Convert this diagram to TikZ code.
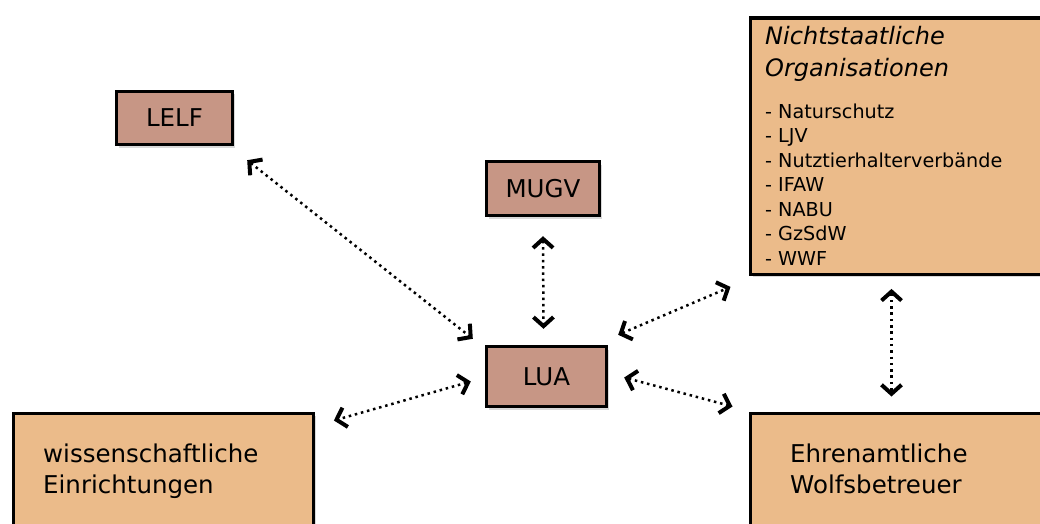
\documentclass[tikz,border=0pt]{standalone}
\usepackage{fontspec}
\setmainfont{DejaVu Sans}
\usetikzlibrary{arrows.meta,shadows,calc}
\definecolor{rose}{RGB}{199,150,133}
\definecolor{sand}{RGB}{235,187,138}
\begin{document}
\begin{tikzpicture}[x=1pt,y=-1pt,
  box/.style={draw=black,line width=3.4pt,inner sep=0pt,
    drop shadow={shadow xshift=2.5pt,shadow yshift=-3pt,opacity=0.3}},
  smallbox/.style={box,fill=rose,font=\fontsize{24.5}{28}\selectfont},
  bigbox/.style={box,fill=sand,anchor=north west},
  bigtext/.style={anchor=base west,inner sep=0pt,font=\fontsize{24.5}{28}\selectfont},
  titletext/.style={bigtext,font=\fontsize{24}{28}\selectfont\itshape},
  listtext/.style={anchor=base west,inner sep=0pt,font=\fontsize{19.2}{24}\selectfont},
  link/.style={line width=2.5pt,dash pattern=on 2.5pt off 3.8pt,
    {Straight Barb[length=9pt,width=20pt,line width=4pt]}-{Straight Barb[length=9pt,width=20pt,line width=4pt]}}
]
\useasboundingbox (0,0) rectangle (1040,524);
\clip (0,0) rectangle (1040,524);

% small boxes
\node[smallbox,minimum width=116pt,minimum height=53pt] (LELF) at (174.5,118) {LELF};
\node[smallbox,minimum width=113pt,minimum height=54pt] (MUGV) at (543,188.5) {MUGV};
\node[smallbox,minimum width=120pt,minimum height=60pt] (LUA) at (546.5,376.5) {LUA};

% big boxes
\node[bigbox,minimum width=320pt,minimum height=256pt] (NGO) at (748.5,16.5) {};
\node[bigbox,minimum width=300pt,minimum height=150pt] (WISS) at (11.5,411.5) {};
\node[bigbox,minimum width=320pt,minimum height=150pt] (EHR) at (748.5,411.5) {};

% texts
\node[titletext] (ngot1) at (765,45) {Nichtstaatliche};
\node[titletext] (ngot2) at (765,77) {Organisationen};
\foreach \t [count=\i from 0] in {Naturschutz,LJV,Nutztierhalterverbände,IFAW,NABU,GzSdW,WWF}
  \node[listtext] (ngol\i) at (765,118+24.5*\i) {- \t};

\node[bigtext] (wiss1) at (43,462) {wissenschaftliche};
\node[bigtext] (wiss2) at (43,493) {Einrichtungen};
\node[bigtext] (ehr1) at (790,462) {Ehrenamtliche};
\node[bigtext] (ehr2) at (790,493) {Wolfsbetreuer};

% connectors
\draw[link] ($(LELF.south east)+(13,14)$) -- ($(LUA.north west)+(-12,-6)$);
\draw[link] ($(MUGV.south)+(0,19)$) -- ($(LUA.north)+(-3,-16)$);
\draw[link] ($(LUA.north east)+(10,-10)$) -- ($(NGO.south west)+(-18,11)$);
\draw[link] ($(LUA.east)+(16,1)$) -- ($(EHR.north west)+(-16,-5)$);
\draw[link] ($(LUA.west)+(-14,5)$) -- ($(WISS.north east)+(19,9)$);
\draw[link] ($(NGO.south west)+(143,13)$) -- ($(EHR.north west)+(143,-15)$);
\end{tikzpicture}
\end{document}
